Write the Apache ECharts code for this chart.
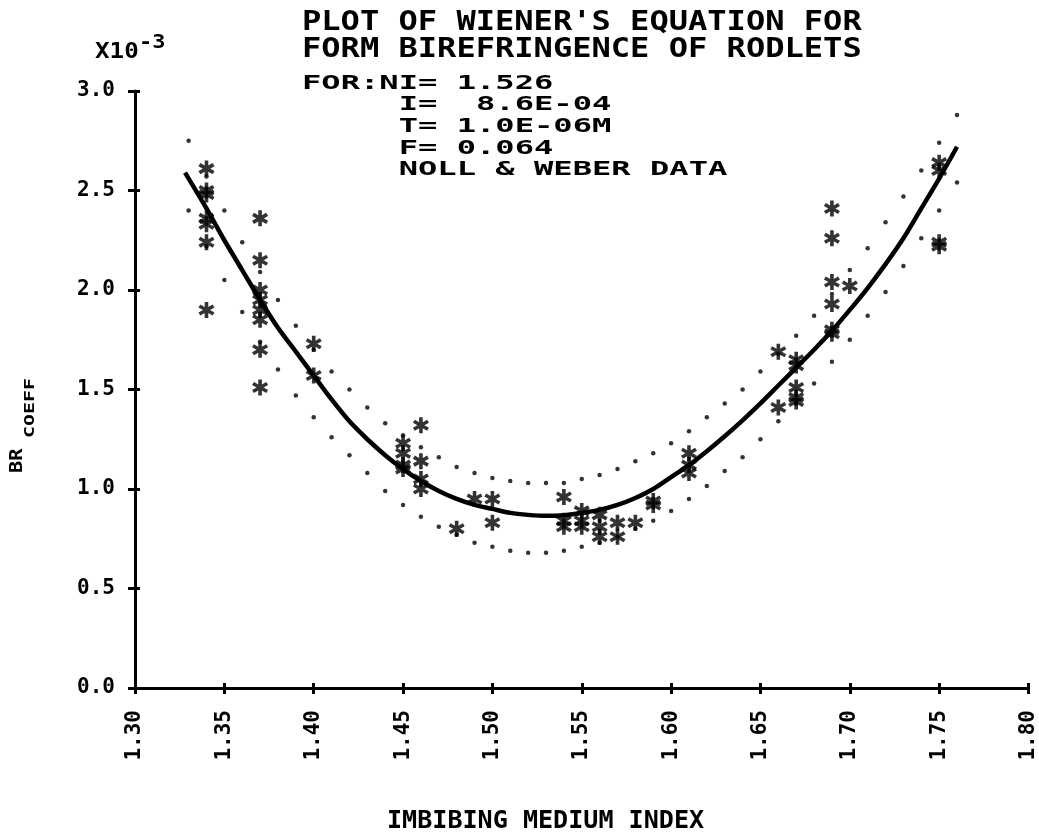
<!DOCTYPE html>
<html>
<head>
<meta charset="utf-8">
<script src="https://cdn.jsdelivr.net/npm/echarts@6/dist/echarts.min.js"></script>
<style>
html,body{margin:0;padding:0;background:#fff;}
#chart{width:1039px;height:834px;}
</style>
</head>
<body>
<div id="chart"></div>
<script>
// ---- data ----
const xTickMin = 1.30, xTickMax = 1.80, xTickStep = 0.05;
const yTickMin = 0.0, yTickMax = 3.0, yTickStep = 0.5;

// fitted Wiener curve (solid)
const curveX = [1.328, 1.34, 1.35, 1.36, 1.37, 1.38, 1.39, 1.40, 1.41, 1.42, 1.43, 1.44, 1.45, 1.46, 1.47, 1.48, 1.49, 1.50, 1.51, 1.52, 1.53, 1.54, 1.55, 1.56, 1.57, 1.58, 1.59, 1.60, 1.61, 1.62, 1.63, 1.64, 1.65, 1.66, 1.67, 1.68, 1.69, 1.70, 1.71, 1.72, 1.73, 1.74, 1.75, 1.76];
const curveY = [2.59, 2.41, 2.25, 2.10, 1.95, 1.81, 1.69, 1.57, 1.45, 1.34, 1.25, 1.17, 1.10, 1.04, 0.99, 0.95, 0.92, 0.90, 0.88, 0.87, 0.865, 0.868, 0.88, 0.895, 0.92, 0.955, 1.00, 1.06, 1.12, 1.19, 1.265, 1.345, 1.43, 1.52, 1.61, 1.70, 1.795, 1.90, 2.01, 2.13, 2.26, 2.41, 2.56, 2.72];

// dotted bounds
const bandX = [1.33, 1.34, 1.35, 1.36, 1.37, 1.38, 1.39, 1.40, 1.41, 1.42, 1.43, 1.44, 1.45, 1.46, 1.47, 1.48, 1.49, 1.50, 1.51, 1.52, 1.53, 1.54, 1.55, 1.56, 1.57, 1.58, 1.59, 1.60, 1.61, 1.62, 1.63, 1.64, 1.65, 1.66, 1.67, 1.68, 1.69, 1.70, 1.71, 1.72, 1.73, 1.74, 1.75, 1.76];
const upperY = [2.75, 2.57, 2.40, 2.24, 2.09, 1.95, 1.82, 1.70, 1.59, 1.50, 1.41, 1.33, 1.27, 1.21, 1.16, 1.11, 1.08, 1.055, 1.04, 1.03, 1.03, 1.03, 1.05, 1.07, 1.10, 1.14, 1.18, 1.23, 1.29, 1.36, 1.43, 1.50, 1.59, 1.68, 1.77, 1.87, 1.98, 2.10, 2.21, 2.34, 2.47, 2.60, 2.74, 2.88];
const lowerY = [2.40, 2.22, 2.05, 1.89, 1.74, 1.60, 1.47, 1.36, 1.26, 1.17, 1.08, 0.99, 0.92, 0.86, 0.81, 0.77, 0.73, 0.71, 0.69, 0.68, 0.68, 0.69, 0.71, 0.73, 0.76, 0.80, 0.84, 0.89, 0.95, 1.015, 1.09, 1.16, 1.25, 1.34, 1.43, 1.53, 1.64, 1.75, 1.87, 1.99, 2.12, 2.26, 2.40, 2.54];

// Noll & Weber data (asterisks)
const obsX = [1.34, 1.34, 1.34, 1.34, 1.34, 1.34, 1.34,
  1.37, 1.37, 1.37, 1.37, 1.37, 1.37, 1.37, 1.37,
  1.40, 1.40,
  1.45, 1.45, 1.45, 1.45,
  1.46, 1.46, 1.46, 1.46,
  1.48, 1.49, 1.50, 1.50,
  1.54, 1.54, 1.54,
  1.55, 1.55, 1.55,
  1.56, 1.56, 1.56,
  1.57, 1.57, 1.58, 1.59, 1.59,
  1.61, 1.61, 1.61,
  1.66, 1.66,
  1.67, 1.67, 1.67, 1.67, 1.67,
  1.69, 1.69, 1.69, 1.69, 1.69, 1.69,
  1.70,
  1.75, 1.75, 1.75, 1.75];
const obsY = [2.61, 2.50, 2.48, 2.36, 2.33, 2.24, 1.90,
  2.36, 2.15, 2.00, 1.95, 1.90, 1.85, 1.70, 1.51,
  1.73, 1.57,
  1.23, 1.18, 1.12, 1.10,
  1.32, 1.14, 1.05, 1.00,
  0.80, 0.95, 0.95, 0.83,
  0.96, 0.84, 0.81,
  0.89, 0.84, 0.81,
  0.87, 0.81, 0.76,
  0.83, 0.76, 0.83, 0.94, 0.92,
  1.18, 1.12, 1.08,
  1.69, 1.41,
  1.65, 1.62, 1.51, 1.46, 1.44,
  2.41, 2.26, 2.04, 1.93, 1.80, 1.78,
  2.02,
  2.64, 2.60, 2.24, 2.22];

const titleLines = ["PLOT OF WIENER'S EQUATION FOR", "FORM BIREFRINGENCE OF RODLETS"];
const infoLines = ["FOR:NI= 1.526", "     I=  8.6E-04", "     T= 1.0E-06M", "     F= 0.064", "     NOLL & WEBER DATA"];
const xName = "IMBIBING MEDIUM INDEX";
const yNameMain = "BR", yNameSub = "COEFF";
const scaleText = "X10", scaleExp = "-3";

// ---- chart ----
const zip = (xs, ys) => xs.map((x, i) => [x, ys[i]]);
const MONO = "'DejaVu Sans Mono', monospace";
const asterisk = 'path://M-0.22,-1L0.22,-1L0.22,1L-0.22,1Z M-0.976,-0.31L-0.756,-0.69L0.976,0.31L0.756,0.69Z M-0.756,0.69L-0.976,0.31L0.756,-0.69L0.976,-0.31Z';

const chart = echarts.init(document.getElementById('chart'), null, {renderer: 'canvas'});

const lineStyle = {color: '#000', width: 3};
const baseX = {type: 'value', min: xTickMin, max: xTickMax, interval: xTickStep, position: 'bottom', splitLine: {show: false}};
const baseY = {type: 'value', min: yTickMin, max: yTickMax, interval: yTickStep, position: 'left', splitLine: {show: false}};

function txt(text, x, y, size, sx, extra) {
  return Object.assign({
    type: 'text', x: x, y: y, scaleX: sx, silent: true,
    style: {text: text, x: 0, y: 0, font: 'bold ' + size + 'px ' + MONO, fill: '#000',
      textAlign: 'left', textVerticalAlign: 'middle', align: 'left', verticalAlign: 'middle'}
  }, extra || {});
}

const graphics = [];
titleLines.forEach((t, i) => graphics.push(txt(t, 302, [23, 50][i], 26, 1.233)));
infoLines.forEach((t, i) => graphics.push(txt(t, 302, [84, 105, 127, 149, 170][i], 19, 1.69)));
graphics.push(txt(scaleText, 95, 52, 22, 1.1));
graphics.push(txt(scaleExp, 139, 43, 20, 1.1));
graphics.push(txt(xName, 387, 822, 24, 1.045));
graphics.push(txt(yNameMain, 18, 473, 17, 1.2, {rotation: Math.PI / 2}));
graphics.push(txt(yNameSub, 30, 438, 14, 1.42, {rotation: Math.PI / 2}));

chart.setOption({
  animation: false,
  backgroundColor: '#fff',
  grid: {left: 135, right: 10, top: 91, bottom: 146, containLabel: false},
  xAxis: [
    Object.assign({}, baseX, {
      axisLine: {show: true, onZero: false, lineStyle: lineStyle},
      axisTick: {show: true, inside: false, length: 6, lineStyle: lineStyle},
      axisLabel: {show: true, rotate: 90, margin: 22, color: '#000', fontFamily: MONO, fontWeight: 'bold', fontSize: 21,
        formatter: v => v.toFixed(2)}
    }),
    Object.assign({}, baseX, {
      axisLine: {show: false, onZero: false},
      axisTick: {show: true, inside: true, length: 5, lineStyle: lineStyle},
      axisLabel: {show: false}
    })
  ],
  yAxis: [
    Object.assign({}, baseY, {
      axisLine: {show: true, onZero: false, lineStyle: lineStyle},
      axisTick: {show: true, inside: false, length: 7, lineStyle: lineStyle},
      axisLabel: {show: true, margin: 20, color: '#000', fontFamily: MONO, fontWeight: 'bold', fontSize: 21,
        formatter: v => v.toFixed(1)}
    }),
    Object.assign({}, baseY, {
      axisLine: {show: false, onZero: false},
      axisTick: {show: true, inside: true, length: 5, lineStyle: lineStyle},
      axisLabel: {show: false}
    })
  ],
  series: [
    {
      name: 'upper', type: 'scatter', data: zip(bandX, upperY), symbol: 'circle', symbolSize: 4.5,
      itemStyle: {color: '#000'}, silent: true
    },
    {
      name: 'lower', type: 'scatter', data: zip(bandX, lowerY), symbol: 'circle', symbolSize: 4.5,
      itemStyle: {color: '#000'}, silent: true
    },
    {
      name: 'curve', type: 'line', data: zip(curveX, curveY), smooth: 0.3, showSymbol: false,
      lineStyle: {color: '#000', width: 4.5}, silent: true
    },
    {
      name: 'data', type: 'scatter', data: zip(obsX, obsY), symbol: asterisk, symbolSize: 16,
      itemStyle: {color: '#000'}, silent: true
    }
  ],
  graphic: graphics
});
</script>
</body>
</html>
